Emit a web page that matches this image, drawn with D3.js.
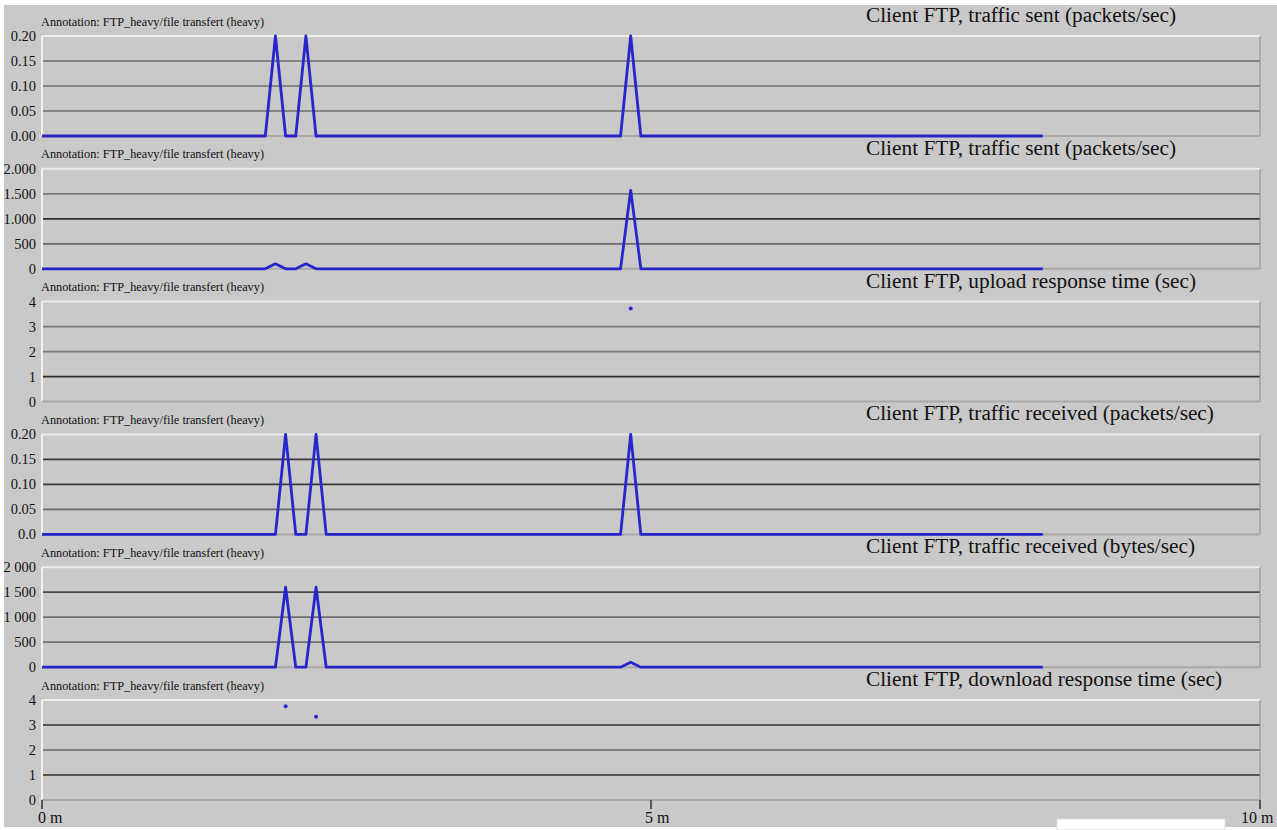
<!DOCTYPE html>
<html>
<head>
<meta charset="utf-8">
<script src="https://cdn.jsdelivr.net/npm/d3@7"></script>
<style>
  body { margin: 0; background: #ffffff; }
  svg { display: block; }
  text { font-family: "Liberation Serif", "Times New Roman", serif; fill: #111; }
</style>
</head>
<body>
<svg id="chart" width="1277" height="830"></svg>
<script>
// ---- data (time in seconds) ----
const annotationText = "Annotation: FTP_heavy/file transfert (heavy)";
const panelTitles = [
  "Client FTP, traffic sent (packets/sec)",
  "Client FTP, traffic sent (packets/sec)",
  "Client FTP, upload response time (sec)",
  "Client FTP, traffic received (packets/sec)",
  "Client FTP, traffic received (bytes/sec)",
  "Client FTP, download response time (sec)"
];

const sentTimes = [0, 110, 115, 120, 125, 130, 135, 285, 290, 295, 493];
const sentPackets = [0, 0, 0.2, 0, 0, 0.2, 0, 0, 0.2, 0, 0];
const sentBytes = [0, 0, 100, 0, 0, 100, 0, 0, 1570, 0, 0];

const uploadTimes = [290];
const uploadResponse = [3.72];

const recvTimes = [0, 115, 120, 125, 130, 135, 140, 285, 290, 295, 493];
const recvPackets = [0, 0, 0.2, 0, 0, 0.2, 0, 0, 0.2, 0, 0];
const recvBytes = [0, 0, 1600, 0, 0, 1600, 0, 0, 100, 0, 0];

const downloadTimes = [120, 135];
const downloadResponse = [3.75, 3.33];

const yTicks = [
  [0, 0.05, 0.10, 0.15, 0.20],
  [0, 500, 1000, 1500, 2000],
  [0, 1, 2, 3, 4],
  [0, 0.05, 0.10, 0.15, 0.20],
  [0, 500, 1000, 1500, 2000],
  [0, 1, 2, 3, 4]
];
const yTickLabels = [
  ["0.00", "0.05", "0.10", "0.15", "0.20"],
  ["0", "500", "1.000", "1.500", "2.000"],
  ["0", "1", "2", "3", "4"],
  ["0.0", "0.05", "0.10", "0.15", "0.20"],
  ["0", "500", "1 000", "1 500", "2 000"],
  ["0", "1", "2", "3", "4"]
];

const timeTicks = [0, 5, 10];          // minutes
const timeTickLabels = ["0 m", "5 m", "10 m"];

// ---- panel definitions ----
const panels = [
  { kind: "line", t: sentTimes, v: sentPackets },
  { kind: "line", t: sentTimes, v: sentBytes },
  { kind: "dots", t: uploadTimes, v: uploadResponse },
  { kind: "line", t: recvTimes, v: recvPackets },
  { kind: "line", t: recvTimes, v: recvBytes },
  { kind: "dots", t: downloadTimes, v: downloadResponse }
];

// gridline shades for the three interior ticks of each panel (low -> high)
const gridShades = [
  ["#6e6e6e", "#6e6e6e", "#6e6e6e"],
  ["#6a6a6a", "#2e2e2e", "#7a7a7a"],
  ["#2e2e2e", "#7a7a7a", "#7a7a7a"],
  ["#6a6a6a", "#3a3a3a", "#3a3a3a"],
  ["#707070", "#707070", "#4a4a4a"],
  ["#2e2e2e", "#666666", "#2e2e2e"]
];

// ---- layout ----
const W = 1277, H = 830;
const plotLeft = 42, plotRight = 1260;
const firstTop = 36, panelStep = 132.8, panelH = 100;
const lineColor = "#2626cc";
const bg = "#c9c9c9";

const svg = d3.select("#chart");

svg.append("rect").attr("x", 4).attr("y", 5).attr("width", W - 4).attr("height", 822).attr("fill", bg);

const x = d3.scaleLinear().domain([0, 10]).range([plotLeft, plotRight]);

panels.forEach((p, i) => {
  const top = firstTop + i * panelStep;
  const ticks = yTicks[i];
  const y = d3.scaleLinear().domain([0, ticks[ticks.length - 1]]).range([top + panelH, top]);
  const g = svg.append("g");

  // annotation + title
  g.append("text").attr("x", 41).attr("y", top - 10.5)
    .attr("font-size", 12.3).text(annotationText);
  g.append("text").attr("x", 866).attr("y", top - 14)
    .attr("font-size", 21.3).text(panelTitles[i]);

  // interior gridlines
  ticks.slice(1, -1).forEach((tv, k) => {
    g.append("line")
      .attr("x1", plotLeft).attr("x2", plotRight)
      .attr("y1", y(tv)).attr("y2", y(tv))
      .attr("stroke", gridShades[i][k]).attr("stroke-width", 1.7);
  });

  // frame: light top/left, darker right, pale zero line
  g.append("line").attr("x1", plotLeft).attr("x2", plotRight)
    .attr("y1", y(ticks[ticks.length - 1])).attr("y2", y(ticks[ticks.length - 1]))
    .attr("stroke", "#ececec").attr("stroke-width", 2);
  g.append("line").attr("x1", plotLeft).attr("x2", plotLeft)
    .attr("y1", top).attr("y2", top + panelH)
    .attr("stroke", "#f2f2f2").attr("stroke-width", 2);
  g.append("line").attr("x1", plotRight).attr("x2", plotRight)
    .attr("y1", top).attr("y2", top + panelH)
    .attr("stroke", "#8c8c8c").attr("stroke-width", 1);
  g.append("line").attr("x1", plotLeft).attr("x2", plotRight)
    .attr("y1", y(0)).attr("y2", y(0))
    .attr("stroke", "#a9a9a9").attr("stroke-width", 2);

  // y tick labels
  ticks.forEach((tv, k) => {
    g.append("text").attr("x", 36).attr("y", y(tv)).attr("dy", "0.35em")
      .attr("text-anchor", "end").attr("font-size", 14.5)
      .text(yTickLabels[i][k]);
  });

  const pts = p.t.map((t, k) => [t / 60, p.v[k]]);
  if (p.kind === "line") {
    const line = d3.line().x(d => x(d[0])).y(d => y(d[1]));
    g.append("path").datum(pts).attr("d", line)
      .attr("fill", "none").attr("stroke", lineColor)
      .attr("stroke-width", 2.8).attr("stroke-linejoin", "round");
  } else {
    g.selectAll("circle").data(pts).join("circle")
      .attr("cx", d => x(d[0])).attr("cy", d => y(d[1]))
      .attr("r", 2).attr("fill", lineColor);
  }
});

// time axis under the last panel
const axisY = firstTop + 5 * panelStep + panelH;
const xOffsets = [-4, -6, -19];
timeTicks.forEach((tv, k) => {
  svg.append("line").attr("x1", x(tv)).attr("x2", x(tv))
    .attr("y1", axisY).attr("y2", axisY + 9)
    .attr("stroke", "#555").attr("stroke-width", 2);
  svg.append("text").attr("x", x(tv) + xOffsets[k]).attr("y", axisY + 23)
    .attr("font-size", 16).text(timeTickLabels[k]);
});

// empty white box at bottom right
svg.append("rect").attr("x", 1057).attr("y", 819).attr("width", 168).attr("height", 11)
  .attr("fill", "#ffffff").attr("stroke", "#dddddd").attr("stroke-width", 1);
</script>
</body>
</html>
